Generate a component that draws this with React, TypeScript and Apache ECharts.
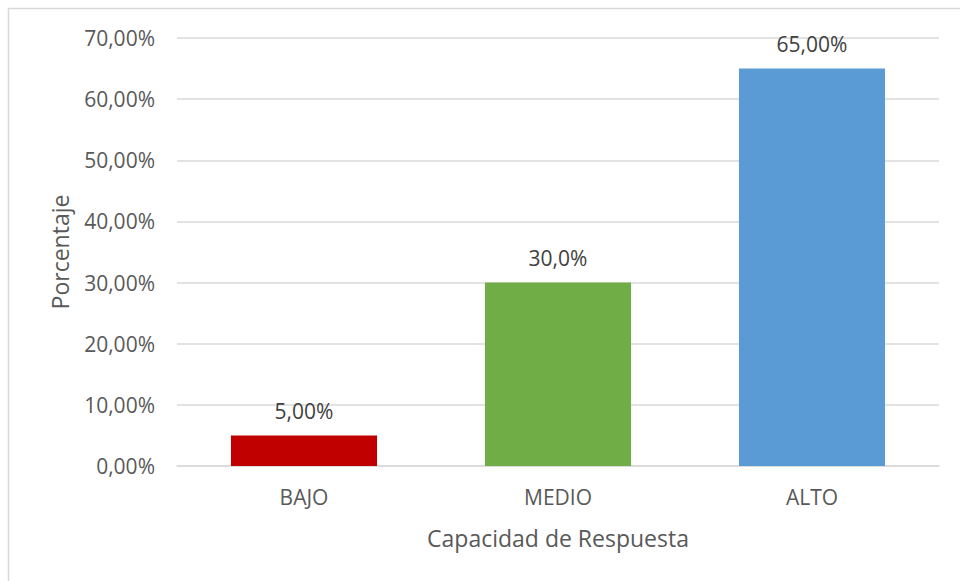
import React, { useEffect, useRef } from "react";
import * as echarts from "echarts";

const categories = ["BAJO", "MEDIO", "ALTO"];
const values = [5, 30, 65];
const valueLabels = ["5,00%", "30,0%", "65,00%"];
const barColors = ["#C00000", "#70AD47", "#5B9BD5"];

export default function App() {
  const ref = useRef<HTMLDivElement>(null);
  useEffect(() => {
    if (!ref.current) return;
    const chart = echarts.init(ref.current, null, { renderer: "svg" });
    const font = "'Open Sans', 'Noto Sans', sans-serif";
    chart.setOption({
      animation: false,
      backgroundColor: "#ffffff",
      textStyle: { fontFamily: font },
      graphic: [
        {
          type: "rect",
          shape: { x: 8.5, y: 8.5, width: 1000, height: 1000 },
          style: { fill: "none", stroke: "#D9D9D9", lineWidth: 1.5 },
          silent: true,
        },
      ],
      grid: { left: 177, right: 21, top: 38, bottom: 115, containLabel: false },
      xAxis: {
        type: "category",
        data: categories,
        axisLine: { show: true, lineStyle: { color: "#D9D9D9", width: 1.5 } },
        axisTick: { show: false },
        axisLabel: { color: "#595959", fontSize: 21, margin: 20, fontFamily: font },
        name: "Capacidad de Respuesta",
        nameLocation: "middle",
        nameGap: 60,
        nameTextStyle: { color: "#595959", fontSize: 23, fontFamily: font },
      },
      yAxis: {
        type: "value",
        min: 0,
        max: 70,
        interval: 10,
        axisLine: { show: false },
        axisTick: { show: false },
        splitLine: { lineStyle: { color: "#D9D9D9", width: 1.5 } },
        axisLabel: {
          color: "#595959",
          fontSize: 21,
          margin: 22,
          fontFamily: font,
          formatter: (v: number) => v.toFixed(2).replace(".", ",") + "%",
        },
        name: "Porcentaje",
        nameLocation: "middle",
        nameGap: 106,
        nameTextStyle: { color: "#595959", fontSize: 23, fontFamily: font },
      },
      series: [
        {
          type: "bar",
          barWidth: "57.5%",
          data: values.map((v, i) => ({ value: v, itemStyle: { color: barColors[i] } })),
          label: {
            show: true,
            position: "top",
            distance: 14,
            color: "#404040",
            fontSize: 21,
            fontFamily: font,
            formatter: (p: any) => valueLabels[p.dataIndex],
          },
        },
      ],
    });
    return () => chart.dispose();
  }, []);
  return (
    <div
      ref={ref}
      style={{ position: "absolute", left: 0, top: 0, width: 960, height: 581 }}
    />
  );
}
